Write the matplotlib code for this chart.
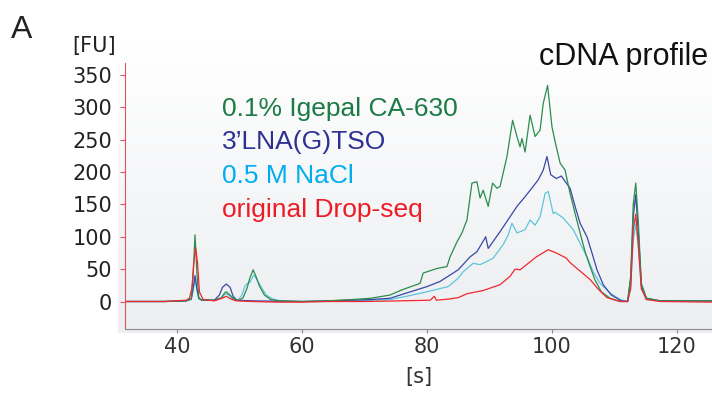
import matplotlib
matplotlib.use("Agg")
import matplotlib.pyplot as plt
import numpy as np
from matplotlib.colors import LinearSegmentedColormap

# electropherogram traces: time [s] / fluorescence [FU]
green_x = [31.7, 38, 41.5, 42.3, 42.6, 42.9, 43.2, 43.5, 44.0,
           46.0, 47.2, 47.6, 47.9, 48.5, 49.2,
           50.0, 50.6, 51.2, 51.7, 52.2, 52.6, 53.2, 54.0, 55.0, 56.5,
           60, 64, 68, 71, 74.1, 76.0, 78.9, 79.4, 81.6, 83.2,
           83.7, 84.8, 85.6, 86.4, 87.2, 88.0, 88.5, 89.0, 89.8, 90.5,
           91.2, 91.7, 92.8, 93.7, 94.4, 94.9, 95.2, 95.7, 96.5, 97.3,
           98.1, 98.6, 99.3, 100.0, 100.5, 101.3, 102.1, 102.9, 103.7, 104.5,
           105.3, 106.1, 106.9, 107.9, 109.3, 110.9, 112.1, 112.6, 113.0, 113.4,
           113.8, 114.3, 115.1, 117.3, 125.6]
green_y = [0, 0, 1, 4, 40, 103, 45, 6, 2,
           2, 6, 13, 15, 10, 3,
           2, 6, 20, 37, 49, 40, 24, 10, 3, 1,
           0, 1, 3, 5, 10, 18, 28, 44, 51, 54,
           69, 92, 106, 126, 183, 185, 160, 172, 147, 183,
           175, 178, 224, 280, 255, 239, 252, 231, 288, 255,
           265, 306, 334, 270, 247, 214, 203, 167, 136, 106,
           77, 54, 33, 15, 5, 0, 0, 40, 150, 183,
           125, 28, 5, 1, 1]

blue_x = [31.7, 38, 41.5, 42.3, 42.6, 42.9, 43.2, 43.5, 44.0,
          46.0, 46.8, 47.3, 47.9, 48.5, 49.0, 49.6,
          52, 60, 64, 68, 71, 74.1, 76.7, 80.0, 82.1, 85.0,
          86.9, 88.0, 88.8, 89.4, 89.8, 90.6, 91.7, 93.3, 94.4, 95.7,
          97.0, 97.8, 98.6, 99.2, 99.8, 100.7, 101.5, 102.3, 102.9, 103.7,
          104.5, 105.6, 106.4, 107.2, 108.2, 109.5, 111.1, 112.1, 112.6, 113.0,
          113.4, 113.8, 114.3, 115.1, 117.3, 125.6]
blue_y = [0, 0, 1, 4, 20, 40, 20, 5, 2,
          2, 10, 22, 27, 22, 8, 2,
          1, 0, 1, 2, 3, 5, 13, 23, 31, 49,
          69, 77, 90, 100, 82, 93, 108, 131, 147, 162,
          178, 188, 203, 224, 196, 190, 194, 183, 175, 147,
          121, 100, 75, 49, 26, 10, 1, 0, 35, 130,
          165, 110, 25, 5, 1, 1]

cyan_x = [31.7, 38, 41.5, 42.3, 42.6, 42.9, 43.2, 43.5, 44.0,
          46.0, 47.0, 47.5, 47.9, 48.4, 49.0,
          49.8, 50.4, 50.9, 51.3, 51.7, 52.3, 52.8, 53.5, 54.3, 55.3,
          56.5, 60, 64, 68, 71, 74.1, 76.7, 80.0, 82.1, 83.4,
          85.0, 85.8, 87.4, 88.5, 89.6, 90.6, 92.2, 93.0, 93.6, 94.4,
          95.7, 96.5, 97.3, 98.1, 98.9, 99.4, 100.2, 100.5, 101.8, 103.4,
          104.5, 105.6, 106.6, 107.7, 109.3, 110.9, 112.1, 112.6, 113.0, 113.4,
          113.8, 114.3, 115.1, 117.3, 125.6]
cyan_y = [0, 0, 1, 3, 18, 36, 18, 4, 2,
          2, 5, 10, 12, 9, 3,
          2, 10, 24, 28, 30, 41, 34, 22, 10, 4,
          1, 0, 0, 1, 2, 3, 8, 15, 20, 23,
          36, 46, 59, 57, 62, 67, 88, 103, 121, 106,
          111, 126, 118, 131, 167, 170, 136, 138, 129, 111,
          90, 69, 46, 28, 13, 3, 0, 25, 95, 120,
          85, 20, 4, 1, 1]

red_x = [31.7, 38, 41.5, 42.0, 42.4, 42.7, 43.0, 43.3, 43.6, 44.2,
         46.0, 47.2, 47.9, 48.6, 49.5, 52, 56, 60, 64, 70,
         75.7, 80.5, 81.2, 81.5, 83.7, 85.0, 86.4, 89.0, 91.7, 93.3,
         94.1, 94.9, 96.2, 97.5, 99.4, 100.7, 102.3, 102.9, 104.5, 106.1,
         107.4, 108.8, 110.9, 112.1, 112.6, 113.0, 113.4, 113.8, 114.3, 115.1,
         117.3, 125.6]
red_y = [0, 0, 2, 5, 20, 60, 83, 60, 15, 3,
         1, 5, 8, 4, 1, 0, -1, -1, 0, 0,
         1, 2, 8, 2, 4, 6, 12, 17, 26, 39,
         50, 49, 59, 69, 80, 75, 67, 60, 47, 34,
         19, 6, 0, 0, 20, 110, 135, 90, 20, 3,
         0, -1]

labels = ["0.1% Igepal CA-630", "3\u2019LNA(G)TSO", "0.5 M NaCl", "original Drop-seq"]
text_colors = ["#1b7a45", "#2e3192", "#00aeef", "#ed1c24"]
line_colors = ["#2a8c4e", "#3a48a6", "#5cc6dc", "#f0282e"]

x_ticks = [40, 60, 80, 100, 120]
y_ticks = [0, 50, 100, 150, 200, 250, 300, 350]

W, H = 712, 400
fig = plt.figure(figsize=(W / 100, H / 100), dpi=100)

# light grey gradient behind the plot area
bg = fig.add_axes([118 / W, 67 / H, 594 / W, 290 / H], zorder=0)
grad = np.linspace(0, 1, 256).reshape(-1, 1)
cmap = LinearSegmentedColormap.from_list("bg", ["#ffffff", "#eceef1"])
bg.imshow(grad, aspect="auto", cmap=cmap, extent=[0, 1, 0, 1], origin="upper")
bg.axis("off")

ax = fig.add_axes([125 / W, 71 / H, 587 / W, 266 / H], zorder=1)
ax.set_facecolor("none")

series = [(cyan_x, cyan_y, line_colors[2]),
          (blue_x, blue_y, line_colors[1]),
          (green_x, green_y, line_colors[0]),
          (red_x, red_y, line_colors[3])]
for xs, ys, c in series:
    ax.plot(xs, ys, color=c, lw=0.9, solid_joinstyle="round")

ax.set_xlim(31.7, 125.6)
ax.set_ylim(-42.5, 368.6)
ax.set_xticks(x_ticks)
ax.set_yticks(y_ticks)

for s in ["top", "right"]:
    ax.spines[s].set_visible(False)
ax.spines["left"].set_color("#e6505a")
ax.spines["left"].set_linewidth(0.8)
ax.spines["bottom"].set_color("#8a8a8a")
ax.spines["bottom"].set_linewidth(0.8)

ax.tick_params(axis="y", colors="#e6505a", labelcolor="#222222", length=3.6,
               width=0.8, pad=5.5, labelsize=15)
ax.tick_params(axis="x", colors="#8a8a8a", labelcolor="#333333", length=3,
               width=0.8, pad=3, labelsize=15)
for t in ax.get_xticklabels() + ax.get_yticklabels():
    t.set_fontfamily("DejaVu Sans")

ax.set_xlabel("[s]", fontsize=15, color="#333333", family="DejaVu Sans", labelpad=7)

fig.text(94 / W, 1 - 52 / H, "[FU]", fontsize=15, color="#222222",
         family="DejaVu Sans", ha="center", va="baseline")
fig.text(11 / W, 1 - 38 / H, "A", fontsize=23, color="#222222",
         family="Liberation Sans", ha="left", va="baseline")
fig.text(708 / W, 1 - 65 / H, "cDNA profile", fontsize=22, color="#111111",
         family="Liberation Sans", ha="right", va="baseline")

baselines = [115.7, 149, 183.3, 216.7]
for lab, col, b in zip(labels, text_colors, baselines):
    fig.text(222 / W, 1 - b / H, lab, fontsize=19, color=col,
             family="Liberation Sans", ha="left", va="baseline")

fig.savefig("out.png", dpi=100)
